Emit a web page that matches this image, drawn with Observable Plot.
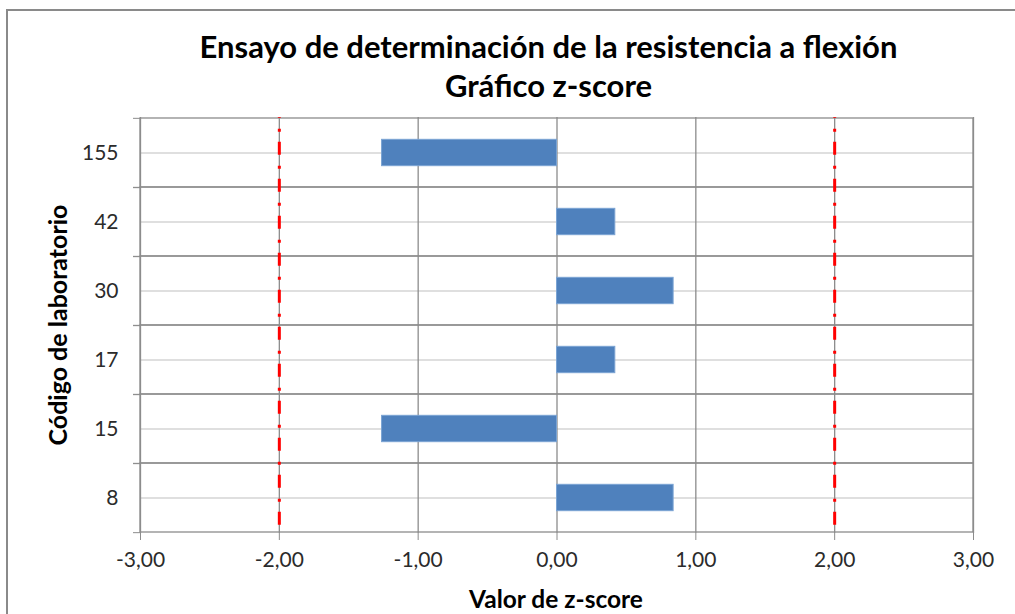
<!DOCTYPE html>
<html>
<head>
<meta charset="utf-8">
<script src="https://cdn.jsdelivr.net/npm/d3@7"></script>
<script src="https://cdn.jsdelivr.net/npm/@observablehq/plot@0.6"></script>
<style>
  html, body { margin: 0; padding: 0; background: #fff; }
  #wrap { position: relative; width: 1015px; height: 614px; overflow: hidden; font-family: Lato, "Open Sans", sans-serif; }
  #border { position: absolute; left: 6px; top: 9px; width: 1100px; height: 700px; border-left: 2px solid #8a8a8a; border-top: 2px solid #8a8a8a; }
  .title { position: absolute; left: 0; width: 1097px; text-align: center; font-weight: bold; font-size: 31px; color: #000; line-height: 1; }
  #xlabel { position: absolute; left: 356px; width: 400px; top: 587px; text-align: center; font-weight: bold; font-size: 24.5px; color: #000; line-height: 1; }
  #ylabel { position: absolute; left: 57px; top: 325px; transform: translate(-50%, -50%) rotate(-90deg); white-space: nowrap; font-weight: bold; font-size: 25px; color: #000; line-height: 1; }
  #chart { position: absolute; left: 0; top: 0; }
</style>
</head>
<body>
<div id="wrap">
  <div id="border"></div>
  <div id="chart"></div>
  <div class="title" id="t1" style="top:31px">Ensayo de determinación de la resistencia a flexión</div>
  <div class="title" id="t2" style="top:70px">Gráfico z-score</div>
  <div id="xlabel">Valor de z-score</div>
  <div id="ylabel">Código de laboratorio</div>
</div>
<script>
// Data
const labs = ["155", "42", "30", "17", "15", "8"];
const zscores = [-1.26, 0.42, 0.84, 0.42, -1.26, 0.84];
const limits = [-2, 2];
const xTicks = [-3, -2, -1, 0, 1, 2, 3];

const data = labs.map((lab, i) => ({lab, z: zscores[i]}));

const W = 1015, H = 614, mL = 140, mR = 42, mT = 117, mB = 81;
const step = (H - mT - mB) / labs.length;
const barInset = step * (1 - 0.385) / 2;
const fmt = d => d.toFixed(2).replace(".", ",");

const chart = Plot.plot({
  width: W,
  height: H,
  marginLeft: mL,
  marginRight: mR,
  marginTop: mT,
  marginBottom: mB,
  style: {fontFamily: "Lato, 'Open Sans', sans-serif", fontSize: "21px", color: "#2b2b2b", background: "transparent", overflow: "visible"},
  x: {domain: [-3, 3], label: null},
  y: {type: "band", domain: labs, padding: 0, label: null},
  marks: [
    Plot.ruleY(labs, {y: d => d, stroke: "#d4d4d4", strokeWidth: 1.5}),
    Plot.gridX({ticks: xTicks, stroke: "#8c8c8c", strokeOpacity: 1, strokeWidth: 1.3}),
    Plot.cell(labs, {y: d => d, fill: "none", stroke: "#8c8c8c", strokeWidth: 1.3}),
    Plot.barX(data, {x: "z", y: "lab", fill: "#4F81BD", stroke: "#7aa3d3", strokeWidth: 1, insetTop: barInset, insetBottom: barInset}),
    Plot.ruleX(limits, {stroke: "#ff0000", strokeWidth: 3, strokeDasharray: "13,11,3,10", strokeDashoffset: 12.3}),
    Plot.axisX({ticks: xTicks, tickFormat: fmt, tickSize: 7, tickPadding: 12, stroke: "#8c8c8c", label: null}),
    Plot.axisY({tickSize: 0, tickPadding: 22, label: null}),
    Plot.axisY({tickSize: 7, text: null, dy: -step / 2, stroke: "#8c8c8c", label: null}),
    Plot.axisY({tickSize: 7, text: null, dy: step / 2, stroke: "#8c8c8c", label: null})
  ]
});
document.getElementById("chart").appendChild(chart);
</script>
</body>
</html>
